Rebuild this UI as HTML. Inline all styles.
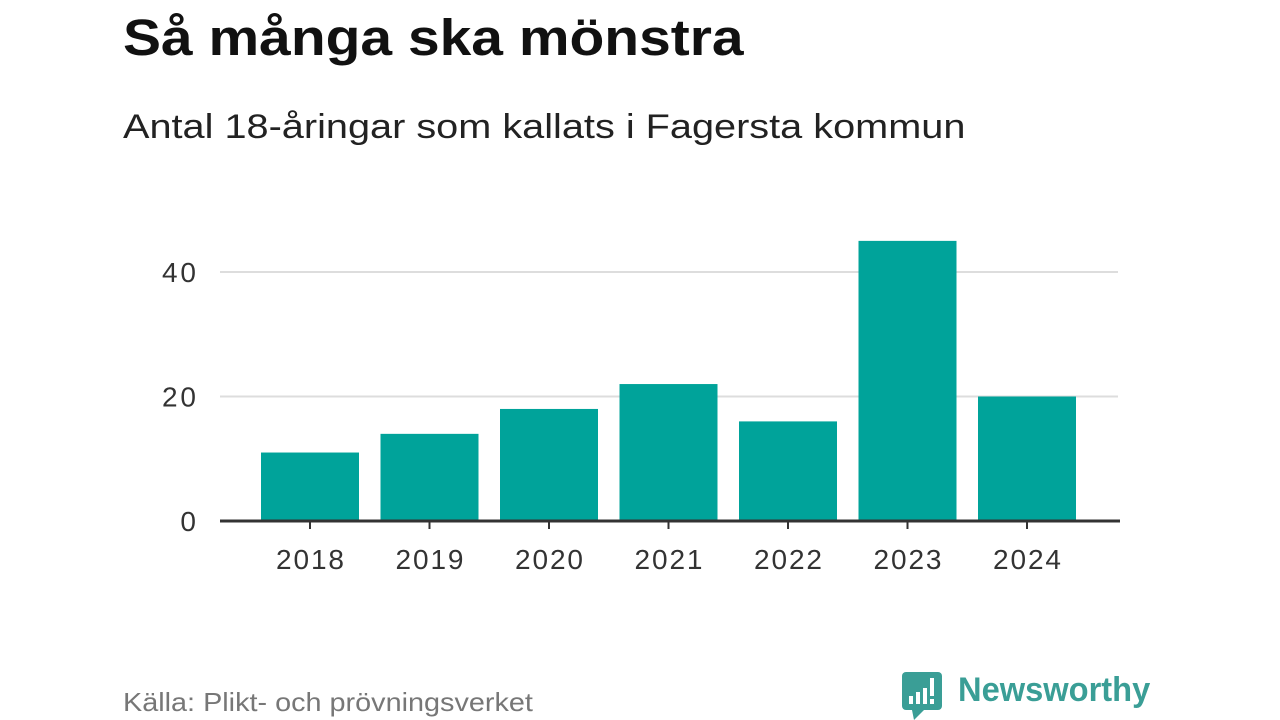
<!DOCTYPE html>
<html><head><meta charset="utf-8"><style>
body{margin:0;width:1280px;height:720px;background:#fff;font-family:"Liberation Sans",sans-serif;position:relative;overflow:hidden}
.t{position:absolute;white-space:nowrap;transform-origin:0 0}
</style></head><body>
<div class="t" style="left:123px;top:8px;font-size:51px;font-weight:bold;color:#111;transform:scaleX(1.117)">Så många ska mönstra</div>
<div class="t" style="left:123px;top:108px;font-size:34px;color:#222;transform:scaleX(1.167)">Antal 18-åringar som kallats i Fagersta kommun</div>
<svg id="chart" width="1280" height="720" style="position:absolute;left:0;top:0"></svg>
<div class="t" style="left:123px;top:687px;font-size:26px;color:#777;transform:scaleX(1.108)">Källa: Plikt- och prövningsverket</div>
<div class="t" style="left:902px;top:672px;">
<svg width="40" height="48" style="position:absolute;left:0;top:0"><rect x="0" y="0" width="40" height="38" rx="4" fill="#3a9e96"/><polygon points="10,38 22,38 12,48" fill="#3a9e96"/><rect x="7" y="24" width="4" height="8" fill="#fff"/><rect x="14" y="20" width="4" height="12" fill="#fff"/><rect x="21" y="16" width="4" height="16" fill="#fff"/><rect x="28" y="6" width="4" height="18" fill="#fff"/><rect x="28" y="27" width="4" height="5" fill="#fff"/></svg>
<span style="position:absolute;left:56px;top:-1px;font-size:34px;font-weight:bold;color:#3a9e96;transform-origin:0 0;transform:scaleX(0.96);display:inline-block">Newsworthy</span></div>
<script>
const categories=["2018","2019","2020","2021","2022","2023","2024"];
const values=[11,14,18,22,16,45,20];
const yTicks=[0,20,40];
const svg=document.getElementById('chart');
const NS='http://www.w3.org/2000/svg';
const y0=521,pxPerUnit=6.225;
function y(v){return y0-v*pxPerUnit;}
function x(i){return 310+i*119.5;}
function mk(t,a){const e=document.createElementNS(NS,t);for(const k in a)e.setAttribute(k,a[k]);svg.appendChild(e);return e;}
yTicks.forEach(v=>{
 if(v>0){const g=mk('line',{x1:220,x2:1118,y1:y(v),y2:y(v),stroke:'#ddd','stroke-width':2});
 
 }
 const t=mk('text',{x:196,y:y(v)+10,'text-anchor':'end','font-size':28,fill:'#333','font-family':'Liberation Sans, sans-serif','textLength':v>0?34:17});
 t.textContent=v;
 
 
});
categories.forEach((c,i)=>{
 const b=mk('rect',{x:x(i)-49,y:y(values[i]),width:98,height:values[i]*pxPerUnit,fill:'#00a39a'});
 
 
 const tk=mk('line',{x1:x(i),x2:x(i),y1:y0,y2:y0+8,stroke:'#333','stroke-width':2});
 
 
 const t=mk('text',{x:x(i),y:569,'text-anchor':'middle','font-size':28,fill:'#333','font-family':'Liberation Sans, sans-serif','textLength':68});
 t.textContent=c;
 
 
});
const ax=mk('line',{x1:220,x2:1120,y1:y0,y2:y0,stroke:'#333','stroke-width':3});


</script>
</body></html>
